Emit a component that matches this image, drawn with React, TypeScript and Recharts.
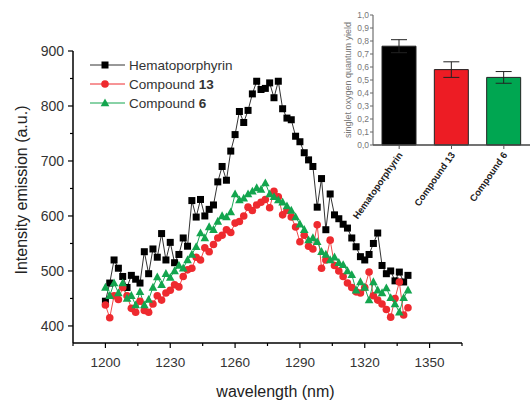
import { LineChart, Line, XAxis, YAxis, Label, BarChart, Bar, Cell, ErrorBar } from "recharts";

const WAVELENGTH = [
  1200, 1202, 1204, 1206, 1208, 1210, 1212, 1214, 1216, 1218,
  1220, 1222, 1224, 1226, 1228, 1230, 1232, 1234, 1236, 1238,
  1240, 1242, 1244, 1246, 1248, 1250, 1252, 1254, 1256, 1258,
  1260, 1262, 1264, 1266, 1268, 1270, 1272, 1274, 1276, 1278,
  1280, 1282, 1284, 1286, 1288, 1290, 1292, 1294, 1296, 1298,
  1300, 1302, 1304, 1306, 1308, 1310, 1312, 1314, 1316, 1318,
  1320, 1322, 1324, 1326, 1328, 1330, 1332, 1334, 1336, 1338,
  1340,
];

const HEMATO = [
  445, 478, 520, 505, 490, 470, 492, 485, 478, 535,
  495, 540, 525, 568, 520, 552, 515, 530, 560, 545,
  628, 598, 630, 600, 612, 620, 662, 690, 665, 718,
  748, 790, 770, 792, 822, 845, 830, 832, 842, 815,
  845, 795, 778, 775, 745, 735, 715, 702, 690, 616,
  668, 575, 640, 602, 595, 585, 578, 560, 544, 526,
  520, 530, 550, 569, 510, 495, 500, 482, 498, 480,
  492,
];

const COMPOUND_13 = [
  438, 415, 455, 448, 470, 455, 432, 425, 445, 428,
  425, 440, 455, 447, 460, 465, 475, 471, 490, 502,
  505, 525, 520, 542, 535, 548, 560, 565, 575, 570,
  587, 590, 600, 616, 610, 620, 625, 630, 615, 645,
  635, 602, 610, 598, 580, 553, 565, 545, 540, 584,
  505, 520, 556, 510, 500, 490, 478, 470, 462, 460,
  470, 498, 455, 447, 440, 430, 416, 450, 480, 420,
  433,
];

const COMPOUND_6 = [
  470, 455, 478, 460, 478, 450, 455, 438, 462, 438,
  448, 470, 489, 475, 495, 488, 500, 510, 505, 520,
  530, 544, 569, 560, 580, 575, 590, 600, 598, 607,
  640, 629, 632, 640, 645, 651, 648, 660, 640, 635,
  629, 625, 618, 610, 598, 585, 575, 556, 560, 553,
  535, 530, 520, 525, 515, 511, 500, 493, 465, 480,
  470, 447, 480, 465, 460, 469, 451, 440, 425, 451,
  465,
];

const X_TICKS = [1185, 1200, 1215, 1230, 1245, 1260, 1275, 1290, 1305, 1320, 1335, 1350, 1365];
const X_LABELS = [1200, 1230, 1260, 1290, 1320, 1350];
const Y_TICKS = [400, 450, 500, 550, 600, 650, 700, 750, 800, 850, 900];
const Y_LABELS = [400, 500, 600, 700, 800, 900];

const BAR_NAMES = ["Hematoporphyrin", "Compound 13", "Compound 6"];
const BAR_VALUES = [0.76, 0.58, 0.52];
const BAR_ERRORS = [0.05, 0.06, 0.045];
const BAR_COLORS = ["#000000", "#ed1c24", "#00a651"];
const INSET_TICKS = [0, 0.1, 0.2, 0.3, 0.4, 0.5, 0.6, 0.7, 0.8, 0.9, 1.0];

const FONT = "Arial, 'Liberation Sans', sans-serif";

const rows = WAVELENGTH.map((wl, i) => ({
  wl,
  hemato: HEMATO[i],
  c13: COMPOUND_13[i],
  c6: COMPOUND_6[i],
}));

const bars = BAR_NAMES.map((name, i) => ({ name, value: BAR_VALUES[i], err: BAR_ERRORS[i] }));

const XTick = (props: any) => {
  const { x, y, payload } = props;
  const major = X_LABELS.includes(payload.value);
  return (
    <g>
      <line x1={x} x2={x} y1={y} y2={y + (major ? 5 : 3)} stroke="#000" strokeWidth={1.2} />
      {major && (
        <text x={x} y={y + 24} textAnchor="middle" fontSize={13.5} fill="#333" fontFamily={FONT}>
          {payload.value}
        </text>
      )}
    </g>
  );
};

const YTick = (props: any) => {
  const { x, y, payload } = props;
  const major = Y_LABELS.includes(payload.value);
  return (
    <g>
      <line x1={x} x2={x - (major ? 5 : 3)} y1={y} y2={y} stroke="#000" strokeWidth={1.2} />
      {major && (
        <text x={x - 9} y={y + 5} textAnchor="end" fontSize={14} fill="#333" fontFamily={FONT}>
          {payload.value}
        </text>
      )}
    </g>
  );
};

const squareDot = (p: any) => (
  <rect key={`h${p.index}`} x={p.cx - 3.5} y={p.cy - 3.5} width={7} height={7} fill="#000" />
);
const circleDot = (p: any) => <circle key={`r${p.index}`} cx={p.cx} cy={p.cy} r={3.8} fill="#ee2a2f" />;
const triDot = (p: any) => (
  <polygon
    key={`g${p.index}`}
    points={`${p.cx},${p.cy - 4.6} ${p.cx - 4.3},${p.cy + 3.2} ${p.cx + 4.3},${p.cy + 3.2}`}
    fill="#13a54e"
  />
);

const InsetYTick = (props: any) => {
  const { x, y, payload } = props;
  return (
    <g>
      <line x1={x} x2={x - 3} y1={y} y2={y} stroke="#666" strokeWidth={1} />
      <text x={x - 4} y={y + 3} textAnchor="end" fontSize={8.5} fill="#777" fontFamily={FONT}>
        {payload.value.toFixed(1).replace(".", ",")}
      </text>
    </g>
  );
};

const InsetXTick = (props: any) => {
  const { x, y, payload } = props;
  return (
    <g>
      <line x1={x} x2={x} y1={y} y2={y + 4} stroke="#555" strokeWidth={1} />
      <g transform={`translate(${x + 4},${y + 10}) rotate(-55)`}>
        <text x={0} y={0} textAnchor="end" fontSize={9.5} fontWeight="bold" fill="#222" fontFamily={FONT}>
          {payload.value}
        </text>
      </g>
    </g>
  );
};

const LegendBox = () => {
  const items = [
    { main: "Hematoporphyrin", bold: "", color: "#333", dot: "square" },
    { main: "Compound ", bold: "13", color: "#ee2a2f", dot: "circle" },
    { main: "Compound ", bold: "6", color: "#13a54e", dot: "tri" },
  ];
  return (
    <svg width={200} height={60} style={{ position: "absolute", left: 88, top: 55 }}>
      {items.map((it, i) => {
        const cy = 10 + i * 19;
        return (
          <g key={it.main + i}>
            <line x1={2} x2={37} y1={cy} y2={cy} stroke={it.color} strokeWidth={1} />
            {it.dot === "square" && <rect x={13.5} y={cy - 3.5} width={7} height={7} fill="#000" />}
            {it.dot === "circle" && <circle cx={17} cy={cy} r={3.8} fill="#ee2a2f" />}
            {it.dot === "tri" && (
              <polygon points={`17,${cy - 4.6} 12.7,${cy + 3.2} 21.3,${cy + 3.2}`} fill="#13a54e" />
            )}
            <text x={41} y={cy + 5} fontSize={13.5} fill="#333" fontFamily={FONT}>
              {it.main}
              {it.bold && <tspan fontWeight="bold">{it.bold}</tspan>}
            </text>
          </g>
        );
      })}
    </svg>
  );
};

export default function App() {
  return (
    <div
      style={{
        position: "absolute",
        left: 0,
        top: 0,
        width: 530,
        height: 403,
        background: "#fff",
        fontFamily: FONT,
        overflow: "hidden",
      }}
    >
      <LineChart width={530} height={403} data={rows} margin={{ top: 51, right: 68, bottom: 0, left: 0 }}>
        <XAxis
          type="number"
          dataKey="wl"
          domain={[1185, 1365]}
          ticks={X_TICKS}
          interval={0}
          tickSize={0}
          tickMargin={0}
          tickLine={false}
          tick={<XTick />}
          axisLine={{ stroke: "#000", strokeWidth: 1.5 }}
          height={60}
          allowDataOverflow
        >
          <Label
            content={(p: any) => (
              <text
                x={p.viewBox.x + p.viewBox.width / 2 + 8}
                y={p.viewBox.y + 54}
                textAnchor="middle"
                fontSize={16}
                fill="#222"
                fontFamily={FONT}
              >
                wavelength (nm)
              </text>
            )}
          />
        </XAxis>
        <YAxis
          type="number"
          domain={[369, 900]}
          ticks={Y_TICKS}
          interval={0}
          width={73}
          tickSize={0}
          tickMargin={0}
          tickLine={false}
          tick={<YTick />}
          axisLine={{ stroke: "#000", strokeWidth: 1.5 }}
          allowDataOverflow
        >
          <Label
            content={(p: any) => {
              const cx = p.viewBox.x + 23;
              const cy = p.viewBox.y + p.viewBox.height / 2 - 7;
              return (
                <text
                  x={cx}
                  y={cy}
                  transform={`rotate(-90, ${cx}, ${cy})`}
                  textAnchor="middle"
                  dominantBaseline="middle"
                  fontSize={16}
                  fill="#222"
                  fontFamily={FONT}
                >
                  Intensity emission (a.u.)
                </text>
              );
            }}
          />
        </YAxis>
        <Line dataKey="hemato" stroke="#333" strokeWidth={1} dot={squareDot} activeDot={false} isAnimationActive={false} />
        <Line dataKey="c13" stroke="#f04a4a" strokeWidth={1} dot={circleDot} activeDot={false} isAnimationActive={false} />
        <Line dataKey="c6" stroke="#1ea85a" strokeWidth={1} dot={triDot} activeDot={false} isAnimationActive={false} />
      </LineChart>

      <LegendBox />

      <div style={{ position: "absolute", left: 330, top: 5 }}>
        <BarChart width={200} height={230} data={bars} margin={{ top: 10, right: 0, bottom: 0, left: 0 }} barCategoryGap={9}>
          <XAxis
            dataKey="name"
            height={90}
            interval={0}
            tickSize={0}
            tickMargin={0}
            tickLine={false}
            tick={<InsetXTick />}
            axisLine={{ stroke: "#444", strokeWidth: 1.5 }}
          />
          <YAxis
            type="number"
            domain={[0, 1]}
            ticks={INSET_TICKS}
            interval={0}
            width={43}
            tickSize={0}
            tickMargin={0}
            tickLine={false}
            tick={<InsetYTick />}
            axisLine={{ stroke: "#555", strokeWidth: 1 }}
          >
            <Label
              content={(p: any) => {
                const cx = p.viewBox.x + 19;
                const cy = p.viewBox.y + p.viewBox.height / 2;
                return (
                  <text
                    x={cx}
                    y={cy}
                    transform={`rotate(-90, ${cx}, ${cy})`}
                    textAnchor="middle"
                    dominantBaseline="middle"
                    fontSize={9}
                    fill="#777"
                    fontFamily={FONT}
                  >
                    singlet oxygen quantum yield
                  </text>
                );
              }}
            />
          </YAxis>
          <Bar dataKey="value" stroke="#222" strokeWidth={1} isAnimationActive={false}>
            {bars.map((b, i) => (
              <Cell key={b.name} fill={BAR_COLORS[i]} />
            ))}
            <ErrorBar dataKey="err" width={8} stroke="#222" strokeWidth={1} direction="y" />
          </Bar>
        </BarChart>
      </div>
    </div>
  );
}
